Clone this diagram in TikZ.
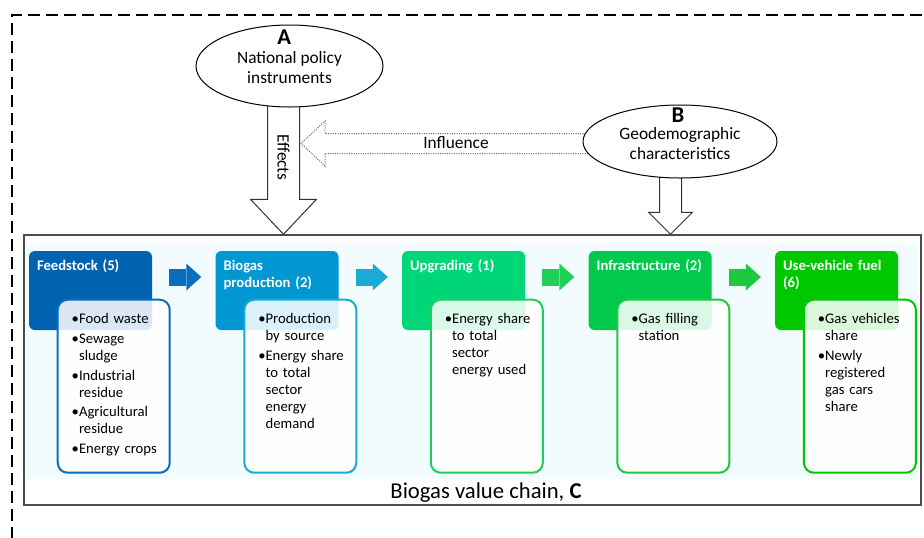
\documentclass[tikz,border=0pt]{standalone}
\usepackage{fontspec}
\setmainfont{Carlito}
\usepackage{tikz}
\usetikzlibrary{arrows.meta, shapes.geometric, positioning, calc, backgrounds}
\definecolor{feedblue}{HTML}{0063B1}
\definecolor{prodblue}{HTML}{0097D3}
\definecolor{upgreen}{HTML}{00D678}
\definecolor{infgreen}{HTML}{00C94C}
\definecolor{usegreen}{HTML}{00C800}
\definecolor{arrfeed}{HTML}{0A6DC0}
\definecolor{arrprod}{HTML}{1BAAD5}
\definecolor{arrup}{HTML}{20CF58}
\definecolor{arrinf}{HTML}{1CC93F}
\definecolor{chainbg}{HTML}{F2FBFD}
\newcommand{\hang}{\hphantom{\textbullet}}

\begin{document}
\begin{tikzpicture}[x=0.75pt, y=-0.75pt,
    node distance=47.25pt,
    head/.style={rounded corners=4.5pt, text width=80.25pt, inner xsep=6pt, inner ysep=5pt,
                 text height=9.25pt, text depth=40pt, align=left, text=white,
                 font=\bfseries\fontsize{11}{12.75}\selectfont},
    itembox/.style={draw, line width=1.5pt, rounded corners=7.5pt, fill=white, fill opacity=0.86,
                 text opacity=1, text width=63pt, inner xsep=10.5pt, inner ysep=5pt,
                 text height=13pt, text depth=106.75pt, align=left, anchor=north west,
                 font=\fontsize{11}{12.75}\selectfont},
    stagearr/.style={line width=12.75pt, shorten <=12.75pt, shorten >=10.5pt,
                 -{Triangle[length=11.25pt, width=20.25pt, line width=0pt]}},
    ellip/.style={draw, ellipse, fill=white, line width=0.75pt, inner sep=0pt},
    hollow/.style={draw=black!80, fill=white, line width=0.75pt, line join=miter},
    lbl/.style={font=\fontsize{13}{15}\selectfont, align=center},
    letter/.style={font=\bfseries\fontsize{17}{17}\selectfont, anchor=base},
  ]
  \useasboundingbox (0,0) rectangle (924,537);
  \draw[line width=1.2pt, dash pattern=on 9pt off 4.5pt] (940,15) -- (12,15) -- (12,550);

  % top: policy and geodemography
  \node[ellip, minimum width=140.25pt, minimum height=61.5pt] (natpol) at (289.5,66) {};
  \node[lbl] (natpolt) at ([yshift=-1pt]natpol.center) {National policy\\instruments};
  \node[letter] (alab) at ([xshift=-4pt, yshift=16pt]natpol.center) {A};
  \node[ellip, minimum width=145.5pt, minimum height=54.75pt] (geo) at (680,141.5) {};
  \node[lbl] (geot) at ([yshift=-1.5pt]geo.center) {Geodemographic\\characteristics};
  \node[letter] (blab) at ([xshift=-1.5pt, yshift=14.5pt]geo.center) {B};

  % value chain frame
  \node[draw=black!70, line width=1.1pt, minimum width=672.75pt, minimum height=202.5pt] (chain) at (472.5,370) {};
  \node[anchor=base, font=\fontsize{17}{20}\selectfont] (chaint) at (486,498) {Biogas value chain, \textbf{C}};

  % stages
  \node[head, fill=feedblue] (fs) at (90.5,290.5) {Feedstock~(5)};
  \node[head, fill=prodblue, right=of fs] (bp) {Biogas\\production~(2)};
  \node[head, fill=upgreen, right=of bp] (up) {Upgrading~(1)};
  \node[head, fill=infgreen, right=of up] (inf) {Infrastructure~(2)};
  \node[head, fill=usegreen, right=of inf] (use) {Use-vehicle~fuel\\(6)};

  \node[itembox, draw=arrfeed] (fsl) at ([xshift=21pt, yshift=-36pt]fs.north west)
    {\textbullet Food~waste\\[2pt] \textbullet Sewage\\ \hang sludge\\[2pt] \textbullet Industrial\\ \hang residue\\[2pt]
     \textbullet Agricultural\\ \hang residue\\[2pt] \textbullet Energy~crops};
  \node[itembox, draw=arrprod] (bpl) at ([xshift=21pt, yshift=-36pt]bp.north west)
    {\textbullet Production\\ \hang by~source\\[2pt] \textbullet Energy~share\\ \hang to~total\\ \hang sector\\ \hang energy\\ \hang demand};
  \node[itembox, draw=arrup] (upl) at ([xshift=21pt, yshift=-36pt]up.north west)
    {\textbullet Energy~share\\ \hang to~total\\ \hang sector\\ \hang energy~used};
  \node[itembox, draw=arrinf] (infl) at ([xshift=21pt, yshift=-36pt]inf.north west)
    {\textbullet Gas~filling\\ \hang station};
  \node[itembox, draw=usegreen] (usel) at ([xshift=21pt, yshift=-36pt]use.north west)
    {\textbullet Gas~vehicles\\ \hang share\\[2pt] \textbullet Newly\\ \hang registered\\ \hang gas~cars\\ \hang share};

  \draw[stagearr, color=arrfeed] ([yshift=10.125pt]fs.east) -- ([yshift=10.125pt]bp.west);
  \draw[stagearr, color=arrprod] ([yshift=10.125pt]bp.east) -- ([yshift=10.125pt]up.west);
  \draw[stagearr, color=arrup] ([yshift=10.125pt]up.east) -- ([yshift=10.125pt]inf.west);
  \draw[stagearr, color=arrinf] ([yshift=10.125pt]inf.east) -- ([yshift=10.125pt]use.west);

  % hollow arrows
  \coordinate (efftop) at ($(natpol.south)+(-6,0)$);
  \coordinate (efftip) at (efftop |- chain.north);
  \coordinate (inftip) at ($(efftop)+(17.5,36)$);
  \coordinate (infend) at (geo.west |- inftip);
  \coordinate (geotop) at ($(geo.south)+(-9.5,0)$);
  \coordinate (geotip) at (geotop |- chain.north);
  \begin{scope}[on background layer]
    \fill[chainbg] ([xshift=2.25pt, yshift=-7.5pt]chain.north west) rectangle ([xshift=-3pt, yshift=20.25pt]chain.south east);
    \draw[hollow] ([xshift=-12pt, yshift=6pt]efftop) -- ([xshift=-12pt, yshift=26.25pt]efftip)
      -- ([xshift=-24.75pt, yshift=26.25pt]efftip) -- (efftip) -- ([xshift=24.75pt, yshift=26.25pt]efftip)
      -- ([xshift=12pt, yshift=26.25pt]efftip) -- ([xshift=12pt, yshift=6pt]efftop);
    \draw[hollow, draw=black!60, densely dotted] ([xshift=6pt, yshift=7.5pt]infend) -- ([xshift=18pt, yshift=7.5pt]inftip)
      -- ([xshift=18pt, yshift=16.875pt]inftip) -- (inftip) -- ([xshift=18pt, yshift=-16.875pt]inftip)
      -- ([xshift=18pt, yshift=-7.5pt]inftip) -- ([xshift=6pt, yshift=-7.5pt]infend);
    \draw[hollow] ([xshift=-8.25pt, yshift=6pt]geotop) -- ([xshift=-8.25pt, yshift=16.5pt]geotip)
      -- ([xshift=-16.5pt, yshift=16.5pt]geotip) -- (geotip) -- ([xshift=16.5pt, yshift=16.5pt]geotip)
      -- ([xshift=8.25pt, yshift=16.5pt]geotip) -- ([xshift=8.25pt, yshift=6pt]geotop);
  \end{scope}
  \node[lbl, rotate=-90] (efft) at ($(efftop)+(0,50)$) {Effects};
  \node[lbl] (inflt) at (456,143) {Influence};
\end{tikzpicture}
\end{document}
